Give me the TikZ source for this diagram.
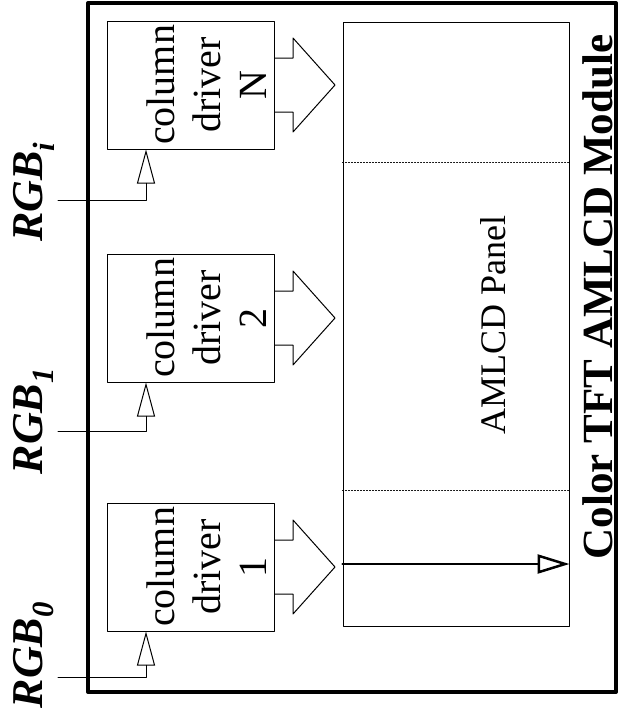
\documentclass[tikz,border=0pt]{standalone}
\usepackage{fontspec}
\setmainfont{Liberation Serif}
\usetikzlibrary{arrows.meta}
\begin{document}
\begin{tikzpicture}[x=1pt,y=-1pt,line join=round,line cap=round,
  driver/.style={draw,line width=1pt,minimum width=167pt,minimum height=128pt,inner sep=0pt},
  drvtext/.style={rotate=90,align=center,font=\fontsize{40}{46}\selectfont},
  inarrow/.style={line width=1pt,-{Triangle[open,length=34pt,width=18pt]}},
  rgb/.style={rotate=90,anchor=base,font=\fontsize{44}{50}\selectfont\bfseries\itshape}]
\useasboundingbox (0,0) rectangle (625,724);
\path
(191,85) coordinate (cN)
(191,318) coordinate (c2)
(191,567) coordinate (c1)
(58,200) coordinate (inN)
(58,431) coordinate (in2)
(58,677) coordinate (in1)
(0,162) coordinate (s1)
(0,490) coordinate (s2)
(0,564) coordinate (pa)
;
% module frame
\draw[line width=4pt] (88,3) rectangle (616,692);
% drivers
\foreach \n in {1,2,N}{
  \node[driver] (d\n) at (c\n) {};
  \node[drvtext] (t\n) at ([xshift=16pt]d\n.center) {column\\driver\\\n};
  \draw[inarrow] (in\n) -| ([xshift=-45pt]d\n.south);
  \draw[line width=1pt] (d\n.east) ++(0,-27) -- ++(18,0) -- ++(0,-20) -- ++(42,47) -- ++(-42,47) -- ++(0,-20) -- ++(-18,0);
}
\foreach \n/\s/\y in {N/i/192, 2/1/421, 1/0/655}
  \node[rgb] (rgb\n) at (42,\y) {RGB\textsubscript{\s}};
% panel
\node[draw,line width=1pt,minimum width=226pt,minimum height=604pt,inner sep=0pt] (panel) at (456,324) {};
\draw[dotted,line width=1pt] (panel.west |- s1) -- (panel.east |- s1);
\draw[dotted,line width=1pt] (panel.west |- s2) -- (panel.east |- s2);
\draw[line width=2.5pt,-{Triangle[open,length=32pt,width=19pt]}] (panel.west |- pa) -- (panel.east |- pa);
\node[rotate=90,anchor=base,font=\fontsize{36}{40}\selectfont] (plabel) at (505,325) {AMLCD Panel};
\node[rotate=90,anchor=base,font=\fontsize{43}{50}\selectfont\bfseries] (title) at (612,297) {Color TFT AMLCD Module};
\end{tikzpicture}
\end{document}
